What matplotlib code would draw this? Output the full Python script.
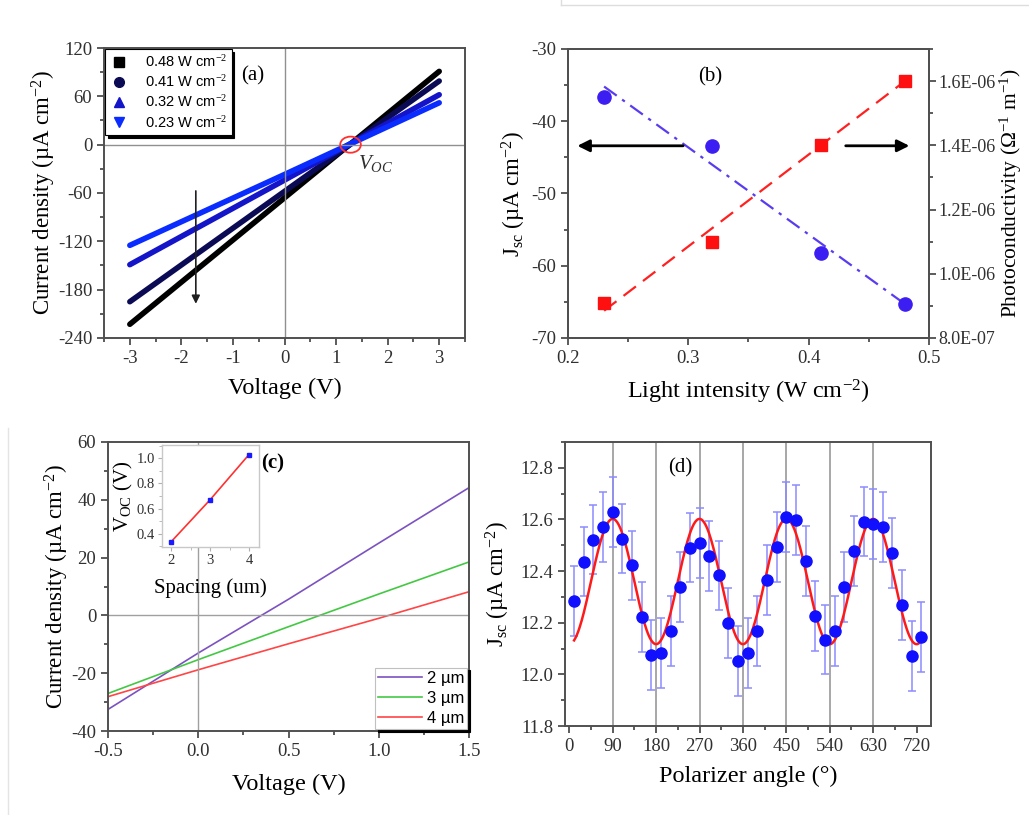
import numpy as np
import matplotlib.pyplot as plt
from matplotlib.lines import Line2D
from matplotlib.patches import Ellipse
from matplotlib.ticker import MultipleLocator

plt.rcParams['font.family'] = ['Liberation Serif', 'DejaVu Serif']
plt.rcParams['mathtext.fontset'] = 'custom'
plt.rcParams['mathtext.rm'] = 'Liberation Serif'
plt.rcParams['mathtext.it'] = 'Liberation Serif:italic'
plt.rcParams['axes.unicode_minus'] = False
plt.rcParams['axes.linewidth'] = 1.4
plt.rcParams['xtick.color'] = '#404040'
plt.rcParams['ytick.color'] = '#404040'
plt.rcParams['xtick.labelcolor'] = '#303030'
plt.rcParams['ytick.labelcolor'] = '#303030'

# (a) J-V curves at different light intensities
va = [-3.0, 0.0, 3.0]
ja_048 = [-223.0, -66.0, 91.0]
ja_041 = [-195.0, -58.0, 79.0]
ja_032 = [-149.0, -44.0, 62.0]
ja_023 = [-125.0, -37.0, 52.0]
labels_a = ['0.48 W cm$^{-2}$', '0.41 W cm$^{-2}$', '0.32 W cm$^{-2}$', '0.23 W cm$^{-2}$']

# (b) Jsc and photoconductivity vs light intensity
intensity = [0.23, 0.32, 0.41, 0.48]
jsc_b = [-36.6, -43.4, -58.2, -65.3]
sigma_b = [9.1e-7, 1.1e-6, 1.4e-6, 1.6e-6]
fit_x = [0.23, 0.48]
jsc_fit = [-35.2, -65.3]
sigma_fit = [8.85e-7, 1.6e-6]

# (c) J-V for different spacings
vc = [-0.5, 0.0, 0.5, 1.0, 1.5]
jc_2 = [-32.5, -13.0, 5.6, 25.0, 44.2]
jc_3 = [-27.0, -15.3, -3.9, 7.4, 18.5]
jc_4 = [-28.1, -18.8, -9.8, -1.0, 8.2]
spacing = [2, 3, 4]
voc_inset = [0.337, 0.67, 1.029]

# (d) Jsc vs polarizer angle
angle = [10, 30, 50, 70, 90, 110, 130, 150, 170, 190, 210, 230, 250, 270, 290, 310, 330, 350, 370,
         390, 410, 430, 450, 470, 490, 510, 530, 550, 570, 590, 610, 630, 650, 670, 690, 710, 730]
jsc_d = [12.285, 12.437, 12.522, 12.570, 12.630, 12.526, 12.422, 12.223, 12.075, 12.082, 12.167,
         12.337, 12.491, 12.509, 12.459, 12.383, 12.198, 12.052, 12.084, 12.169, 12.365, 12.494,
         12.610, 12.598, 12.440, 12.227, 12.135, 12.167, 12.337, 12.478, 12.592, 12.581, 12.572,
         12.469, 12.270, 12.070, 12.144]
jsc_err = 0.135
fit_min, fit_amp = 12.117, 0.485   # Malus-law fit: Jmin + A*sin^2(theta)

fig = plt.figure(figsize=(10.29, 8.15), dpi=100)
TICK = 13.5
LAB = 16.5


def style(ax):
    ax.tick_params(which='both', direction='out', labelsize=TICK, width=1.2)
    ax.tick_params(which='major', length=5)
    ax.tick_params(which='minor', length=3)
    for s in ax.spines.values():
        s.set_color('#505050')


# ---------- (a) ----------
ax = fig.add_axes([0.1011, 0.5853, 0.3508, 0.3558])
cols_a = ['black', '#0b0b55', '#1414c8', '#0a2cff']
marks_a = ['s', 'o', '^', 'v']
for j, c, m, lab in zip([ja_048, ja_041, ja_032, ja_023], cols_a, marks_a, labels_a):
    ax.plot(va, j, color=c, lw=4, solid_capstyle='round')
    ax.plot([], [], ls='none', marker=m, ms=7, color=c, label=lab)
ax.axhline(0, color='#909090', lw=1)
ax.axvline(0, color='#909090', lw=1)
ax.annotate('', xy=(-1.72, -201), xytext=(-1.72, -54),
            arrowprops=dict(arrowstyle='-|>', color='#202020', lw=1.2, mutation_scale=12))
ax.add_patch(Ellipse((1.28, 0), 0.4, 20, fill=False, ec='#ff3030', lw=1.3, zorder=5))
ax.text(1.43, -23, r'$V_{OC}$', fontsize=15, color='#303030', ha='left', va='center')
ax.text(-0.62, 85, '(a)', fontsize=15, ha='center', va='center')
ax.set_xlim(-3.5, 3.5)
ax.set_ylim(-240, 120)
ax.xaxis.set_major_locator(MultipleLocator(1))
ax.xaxis.set_minor_locator(MultipleLocator(0.5))
ax.yaxis.set_major_locator(MultipleLocator(60))
ax.yaxis.set_minor_locator(MultipleLocator(30))
style(ax)
ax.set_xlabel('Voltage (V)', fontsize=17.5, labelpad=8)
ax.set_ylabel('Current density (µA cm$^{-2}$)', fontsize=LAB, labelpad=0)
leg = ax.legend(loc='upper left', bbox_to_anchor=(0.0, 1.0), frameon=True, fancybox=False,
                shadow={'color': 'black', 'alpha': 1}, prop={'family': 'Liberation Sans', 'size': 10.5},
                borderpad=0.3, labelspacing=0.3, handletextpad=1.2, borderaxespad=0.1, handlelength=1.2)
leg.get_frame().set_edgecolor('black')
leg.get_frame().set_linewidth(0.8)

# ---------- (b) ----------
ax = fig.add_axes([0.552, 0.5853, 0.3508, 0.3546])
ax2 = ax.twinx()
ax.plot(fit_x, jsc_fit, color='#5a3cf0', lw=1.6, ls=(0, (7, 3, 1.5, 3)))
ax.plot(intensity, jsc_b, 'o', color='#3d1ef2', ms=9.5, ls='none')
ax2.plot(fit_x, sigma_fit, color='#ff2020', lw=1.6, ls=(0, (7, 4)))
ax2.plot(intensity, sigma_b, 's', color='#ff1010', ms=9, ls='none')
ax.annotate('', xy=(0.2055, -43.4), xytext=(0.298, -43.4),
            arrowprops=dict(arrowstyle='-|>', color='black', lw=2, mutation_scale=18))
ax.annotate('', xy=(0.486, -43.4), xytext=(0.4285, -43.4),
            arrowprops=dict(arrowstyle='-|>', color='black', lw=2, mutation_scale=18))
ax.text(0.318, -33.8, '(b)', fontsize=15, ha='center', va='center')
ax.set_xlim(0.2, 0.5)
ax.set_ylim(-70, -30)
ax2.set_ylim(8.0e-7, 1.7e-6)
ax.xaxis.set_major_locator(plt.FixedLocator([0.2, 0.3, 0.4, 0.5]))
ax.xaxis.set_minor_locator(MultipleLocator(0.05))
ax.xaxis.set_major_formatter(plt.FuncFormatter(lambda v, p: f'{v:.1f}'))
ax.yaxis.set_major_locator(MultipleLocator(10))
ax.yaxis.set_minor_locator(MultipleLocator(5))
ax2.yaxis.set_major_locator(MultipleLocator(2e-7))
ax2.yaxis.set_minor_locator(MultipleLocator(1e-7))
ax2.yaxis.set_major_formatter(plt.FuncFormatter(lambda v, p: f'{v:.1E}'))
style(ax)
style(ax2)
ax2.tick_params(labelsize=13, pad=2)
ax.set_xlabel('Light intensity (W cm$^{-2}$)', fontsize=17.5, labelpad=8)
ax.set_ylabel('J$_{\\mathrm{sc}}$ (µA cm$^{-2}$)', fontsize=LAB, labelpad=2)
ax2.set_ylabel('Photoconductivity (Ω$^{-1}$ m$^{-1}$)', fontsize=15.5, labelpad=1)

# ---------- (c) ----------
ax = fig.add_axes([0.105, 0.103, 0.3508, 0.3547])
ax.plot(vc, jc_2, color='#7b52c0', lw=1.2, label='2 µm')
ax.plot(vc, jc_3, color='#44c844', lw=1.2, label='3 µm')
ax.plot(vc, jc_4, color='#ff4545', lw=1.2, label='4 µm')
ax.axhline(0, color='#a0a0a0', lw=1)
ax.axvline(0, color='#a0a0a0', lw=1)
ax.text(0.41, 52.5, '(c)', fontsize=15, ha='center', va='center', fontweight='bold')
ax.set_xlim(-0.5, 1.5)
ax.set_ylim(-40, 60)
ax.xaxis.set_major_locator(MultipleLocator(0.5))
ax.xaxis.set_minor_locator(MultipleLocator(0.25))
ax.yaxis.set_major_locator(MultipleLocator(20))
ax.yaxis.set_minor_locator(MultipleLocator(10))
style(ax)
ax.set_xlabel('Voltage (V)', fontsize=17.5, labelpad=10)
ax.set_ylabel('Current density (µA cm$^{-2}$)', fontsize=LAB, labelpad=0)
leg = ax.legend(loc='lower right', frameon=True, fancybox=False,
                shadow={'color': 'black', 'alpha': 1}, prop={'family': 'Liberation Sans', 'size': 12},
                borderpad=0.2, labelspacing=0.3, handletextpad=0.3, borderaxespad=0.1, handlelength=2.6)
leg.get_frame().set_edgecolor('#c0c0c0')
leg.get_frame().set_linewidth(0.8)

ins = fig.add_axes([0.1574, 0.3288, 0.0943, 0.1252])
ins.plot(spacing, voc_inset, color='#ff3030', lw=1.2)
ins.plot(spacing, voc_inset, 's', color='#1a1aff', ms=3.5, ls='none')
ins.set_xlim(1.76, 4.26)
ins.set_ylim(0.294, 1.106)
ins.set_xticks([2, 3, 4])
ins.set_yticks([0.4, 0.6, 0.8, 1.0])
ins.yaxis.set_minor_locator(MultipleLocator(0.1))
ins.xaxis.set_minor_locator(MultipleLocator(0.5))
ins.tick_params(which='both', direction='out', labelsize=10.5, colors='#b0b0b0', labelcolor='#303030', pad=2)
ins.tick_params(which='major', length=3)
ins.tick_params(which='minor', length=2)
for s in ins.spines.values():
    s.set_color('#c8c8c8')
    s.set_linewidth(1)
ins.set_xlabel('Spacing (um)', fontsize=15, labelpad=8)
ins.set_ylabel('V$_{\\mathrm{OC}}$ (V)', fontsize=15, labelpad=1)

# ---------- (d) ----------
ax = fig.add_axes([0.549, 0.1092, 0.3558, 0.3485])
for g in [90, 180, 270, 360, 450, 540, 630]:
    ax.axvline(g, color='#a0a0a0', lw=1.3, zorder=0)
theta = np.linspace(angle[0], angle[-1], 500)
ax.errorbar(angle, jsc_d, yerr=jsc_err, fmt='none', ecolor='#8c8cff', elinewidth=1.1,
            capsize=3, capthick=1.1, zorder=2)
ax.plot(theta, fit_min + fit_amp * np.sin(np.radians(theta)) ** 2, color='#ff1a1a', lw=1.8, zorder=3)
ax.plot(angle, jsc_d, 'o', color='#1010ff', ms=8, ls='none', zorder=4)
ax.text(230, 12.8, '(d)', fontsize=15, ha='center', va='center')
ax.set_xlim(-9, 750)
ax.set_ylim(11.8, 12.9)
ax.set_xticks([0, 90, 180, 270, 360, 450, 540, 630, 720])
ax.xaxis.set_minor_locator(MultipleLocator(45))
ax.yaxis.set_major_locator(MultipleLocator(0.2))
ax.yaxis.set_minor_locator(MultipleLocator(0.1))
style(ax)
ax.set_xlabel('Polarizer angle (°)', fontsize=17.5, labelpad=8)
ax.set_ylabel('J$_{\\mathrm{sc}}$ (µA cm$^{-2}$)', fontsize=LAB, labelpad=6)

# faint crop edges from the source page
fig.add_artist(Line2D([561 / 1029, 1.0], [1 - 5 / 815, 1 - 5 / 815], color='#dddddd', lw=1))
fig.add_artist(Line2D([561 / 1029, 561 / 1029], [1 - 5 / 815, 1.0], color='#dddddd', lw=1))
fig.add_artist(Line2D([8 / 1029, 8 / 1029], [0, 1 - 428 / 815], color='#e4e4e4', lw=1))

fig.savefig('out.png', dpi=100)
